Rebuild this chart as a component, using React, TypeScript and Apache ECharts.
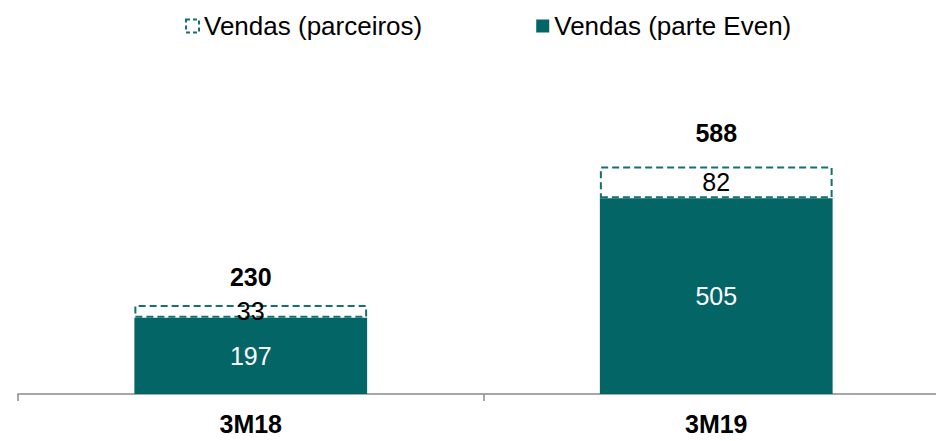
import React, { useEffect, useRef } from "react";
import * as echarts from "echarts";

const categories = ["3M18", "3M19"];
const evenSales = [197, 505];
const partnerSales = [33, 82];
const totals = [230, 588];
const legendNames = ["Vendas (parceiros)", "Vendas (parte Even)"];

const FONT = "'Liberation Sans', Arial, Helvetica, sans-serif";
const TEAL = "#046567";
const DASH = "#16706f";

export default function App() {
  const ref = useRef<HTMLDivElement>(null);
  useEffect(() => {
    if (!ref.current) return;
    const chart = echarts.init(ref.current, null, { renderer: "svg" });
    const totalDistances = [15, 20];
    chart.setOption({
      animation: false,
      textStyle: { fontFamily: FONT },
      legend: {
        data: [
          { name: legendNames[0], itemStyle: { borderType: [4, 3], borderWidth: 2, borderColor: DASH } },
          { name: legendNames[1] },
        ],
        left: 180,
        top: 8,
        itemWidth: 13,
        itemHeight: 13,
        itemGap: 114,
        icon: "rect",
        textStyle: { fontFamily: FONT, fontSize: 26, color: "#000" },
      },
      grid: { left: 18, width: 931, top: 84, bottom: 47, containLabel: false },
      xAxis: {
        type: "category",
        data: categories,
        axisLine: { lineStyle: { color: "#8a8a8a", width: 1.5 } },
        axisTick: { show: true, length: 7, lineStyle: { color: "#8a8a8a", width: 1.5 } },
        axisLabel: { fontFamily: FONT, fontSize: 25, fontWeight: "bold", color: "#000", margin: 17 },
      },
      yAxis: { type: "value", min: 0, max: 800, show: false, splitLine: { show: false } },
      series: [
        {
          name: legendNames[1],
          type: "bar",
          stack: "s",
          barWidth: "50%",
          data: evenSales,
          itemStyle: { color: TEAL },
          label: { show: true, position: "inside", color: "#fff", fontFamily: FONT, fontSize: 25 },
        },
        {
          name: legendNames[0],
          type: "bar",
          stack: "s",
          barWidth: "50%",
          data: partnerSales,
          itemStyle: { color: "rgba(255,255,255,0)", borderColor: DASH, borderWidth: 2, borderType: [7, 4] },
          label: { show: true, position: "inside", color: "#000", fontFamily: FONT, fontSize: 25 },
        },
        {
          name: "total",
          type: "line",
          data: totals.map((v, i) => ({
            value: v,
            label: { distance: totalDistances[i] },
          })),
          symbol: "circle",
          symbolSize: 1,
          showSymbol: true,
          itemStyle: { color: "rgba(0,0,0,0)" },
          lineStyle: { opacity: 0 },
          silent: true,
          label: {
            show: true,
            position: "top",
            color: "#000",
            fontFamily: FONT,
            fontSize: 25,
            fontWeight: "bold",
          },
        },
      ],
    });
    return () => chart.dispose();
  }, []);
  return (
    <div style={{ width: 936, height: 441, position: "absolute", left: 0, top: 0, overflow: "hidden" }}>
      <div ref={ref} style={{ width: 960, height: 441 }} />
    </div>
  );
}
